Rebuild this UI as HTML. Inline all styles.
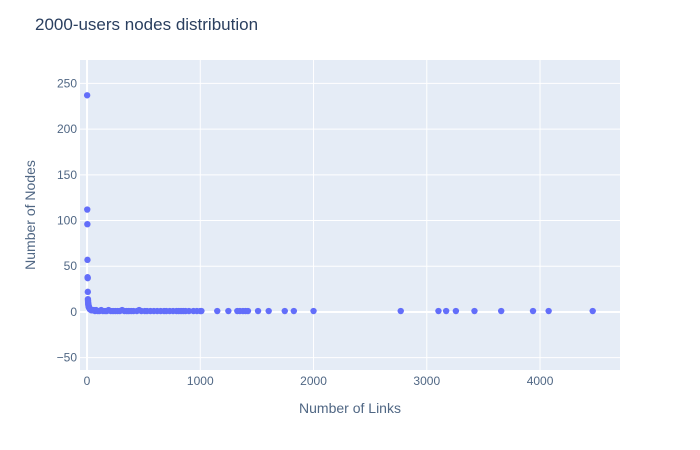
<!DOCTYPE html>
<html><head><meta charset="utf-8"><style>
html,body{margin:0;padding:0;background:#fff;}
svg{display:block;font-family:"Liberation Sans",sans-serif;}
</style></head><body>
<svg id="chart" width="700" height="450">
<rect x="0" y="0" width="700" height="450" fill="#fff"/>
<text x="35" y="30" font-size="17" fill="#2a3f5f">2000-users nodes distribution</text>
<rect x="80" y="60" width="540" height="310" fill="#e5ecf6"/>
<g id="grid"></g>
<g id="marks"></g>
<g id="ticks"></g>
<text x="350" y="413" font-size="14" fill="#506784" text-anchor="middle">Number of Links</text>
<text x="35" y="215" font-size="14" fill="#506784" text-anchor="middle" transform="rotate(-90 35 215)">Number of Nodes</text>
</svg>
<script>
const links = [1,2,3,4,5,6,7,8,9,10,11,12,13,14,15,16,18,20,22,25,28,30,35,40,45,50,60,70,80,95,110,125,140,160,175,190,210,230,250,270,290,310,330,350,370,390,410,440,460,480,510,530,560,590,620,650,680,700,730,760,790,810,830,850,870,900,940,970,1000,1010,1150,1248,1327,1350,1377,1400,1421,1510,1604,1746,1826,2000,2770,3103,3171,3257,3421,3657,3938,4076,4465];
const nodes = [237,112,96,57,38,37,22,14,12,10,9,8,7,6,6,5,5,4,4,3,3,3,2,2,2,2,2,1,2,1,1,2,1,1,1,2,1,1,1,1,1,2,1,1,1,1,1,1,2,1,1,1,1,1,1,1,1,1,1,1,1,1,1,1,1,1,1,1,1,1,1,1,1,1,1,1,1,1,1,1,1,1,1,1,1,1,1,1,1,1,1];
const xTicks = [0,1000,2000,3000,4000];
const yTicks = [-50,0,50,100,150,200,250];
const NS="http://www.w3.org/2000/svg";
const X0=80,X1=620,Y0=60,Y1=370;
const xMin=-62,xMax=4706,yMin=-63.5,yMax=275.6;
function sx(v){return X0+(v-xMin)/(xMax-xMin)*(X1-X0);}
function sy(v){return Y1-(v-yMin)/(yMax-yMin)*(Y1-Y0);}
const grid=document.getElementById('grid'),marks=document.getElementById('marks'),ticks=document.getElementById('ticks');
function mk(tag,attrs,parent){const e=document.createElementNS(NS,tag);for(const k in attrs)e.setAttribute(k,attrs[k]);parent.appendChild(e);return e;}
xTicks.forEach(t=>{
  const l=mk('line',{x1:sx(t),x2:sx(t),y1:Y0,y2:Y1,stroke:'#fff','stroke-width':t===0?2:1},grid);
  
  
  const tx=mk('text',{x:sx(t),y:385,'font-size':12,fill:'#506784','text-anchor':'middle'},ticks);
  tx.textContent=t;
  
  
});
yTicks.forEach(t=>{
  const l=mk('line',{x1:X0,x2:X1,y1:sy(t),y2:sy(t),stroke:'#fff','stroke-width':t===0?2:1},grid);
  
  
  const tx=mk('text',{x:77,y:sy(t)+4,'font-size':12,fill:'#506784','text-anchor':'end'},ticks);
  tx.textContent=t===-50?'\u221250':t;
  
  
});
links.forEach((v,i)=>{
  const c=mk('circle',{cx:sx(v),cy:sy(nodes[i]),r:3.2,fill:'#636efa'},marks);
  
  
});
</script>
</body></html>
